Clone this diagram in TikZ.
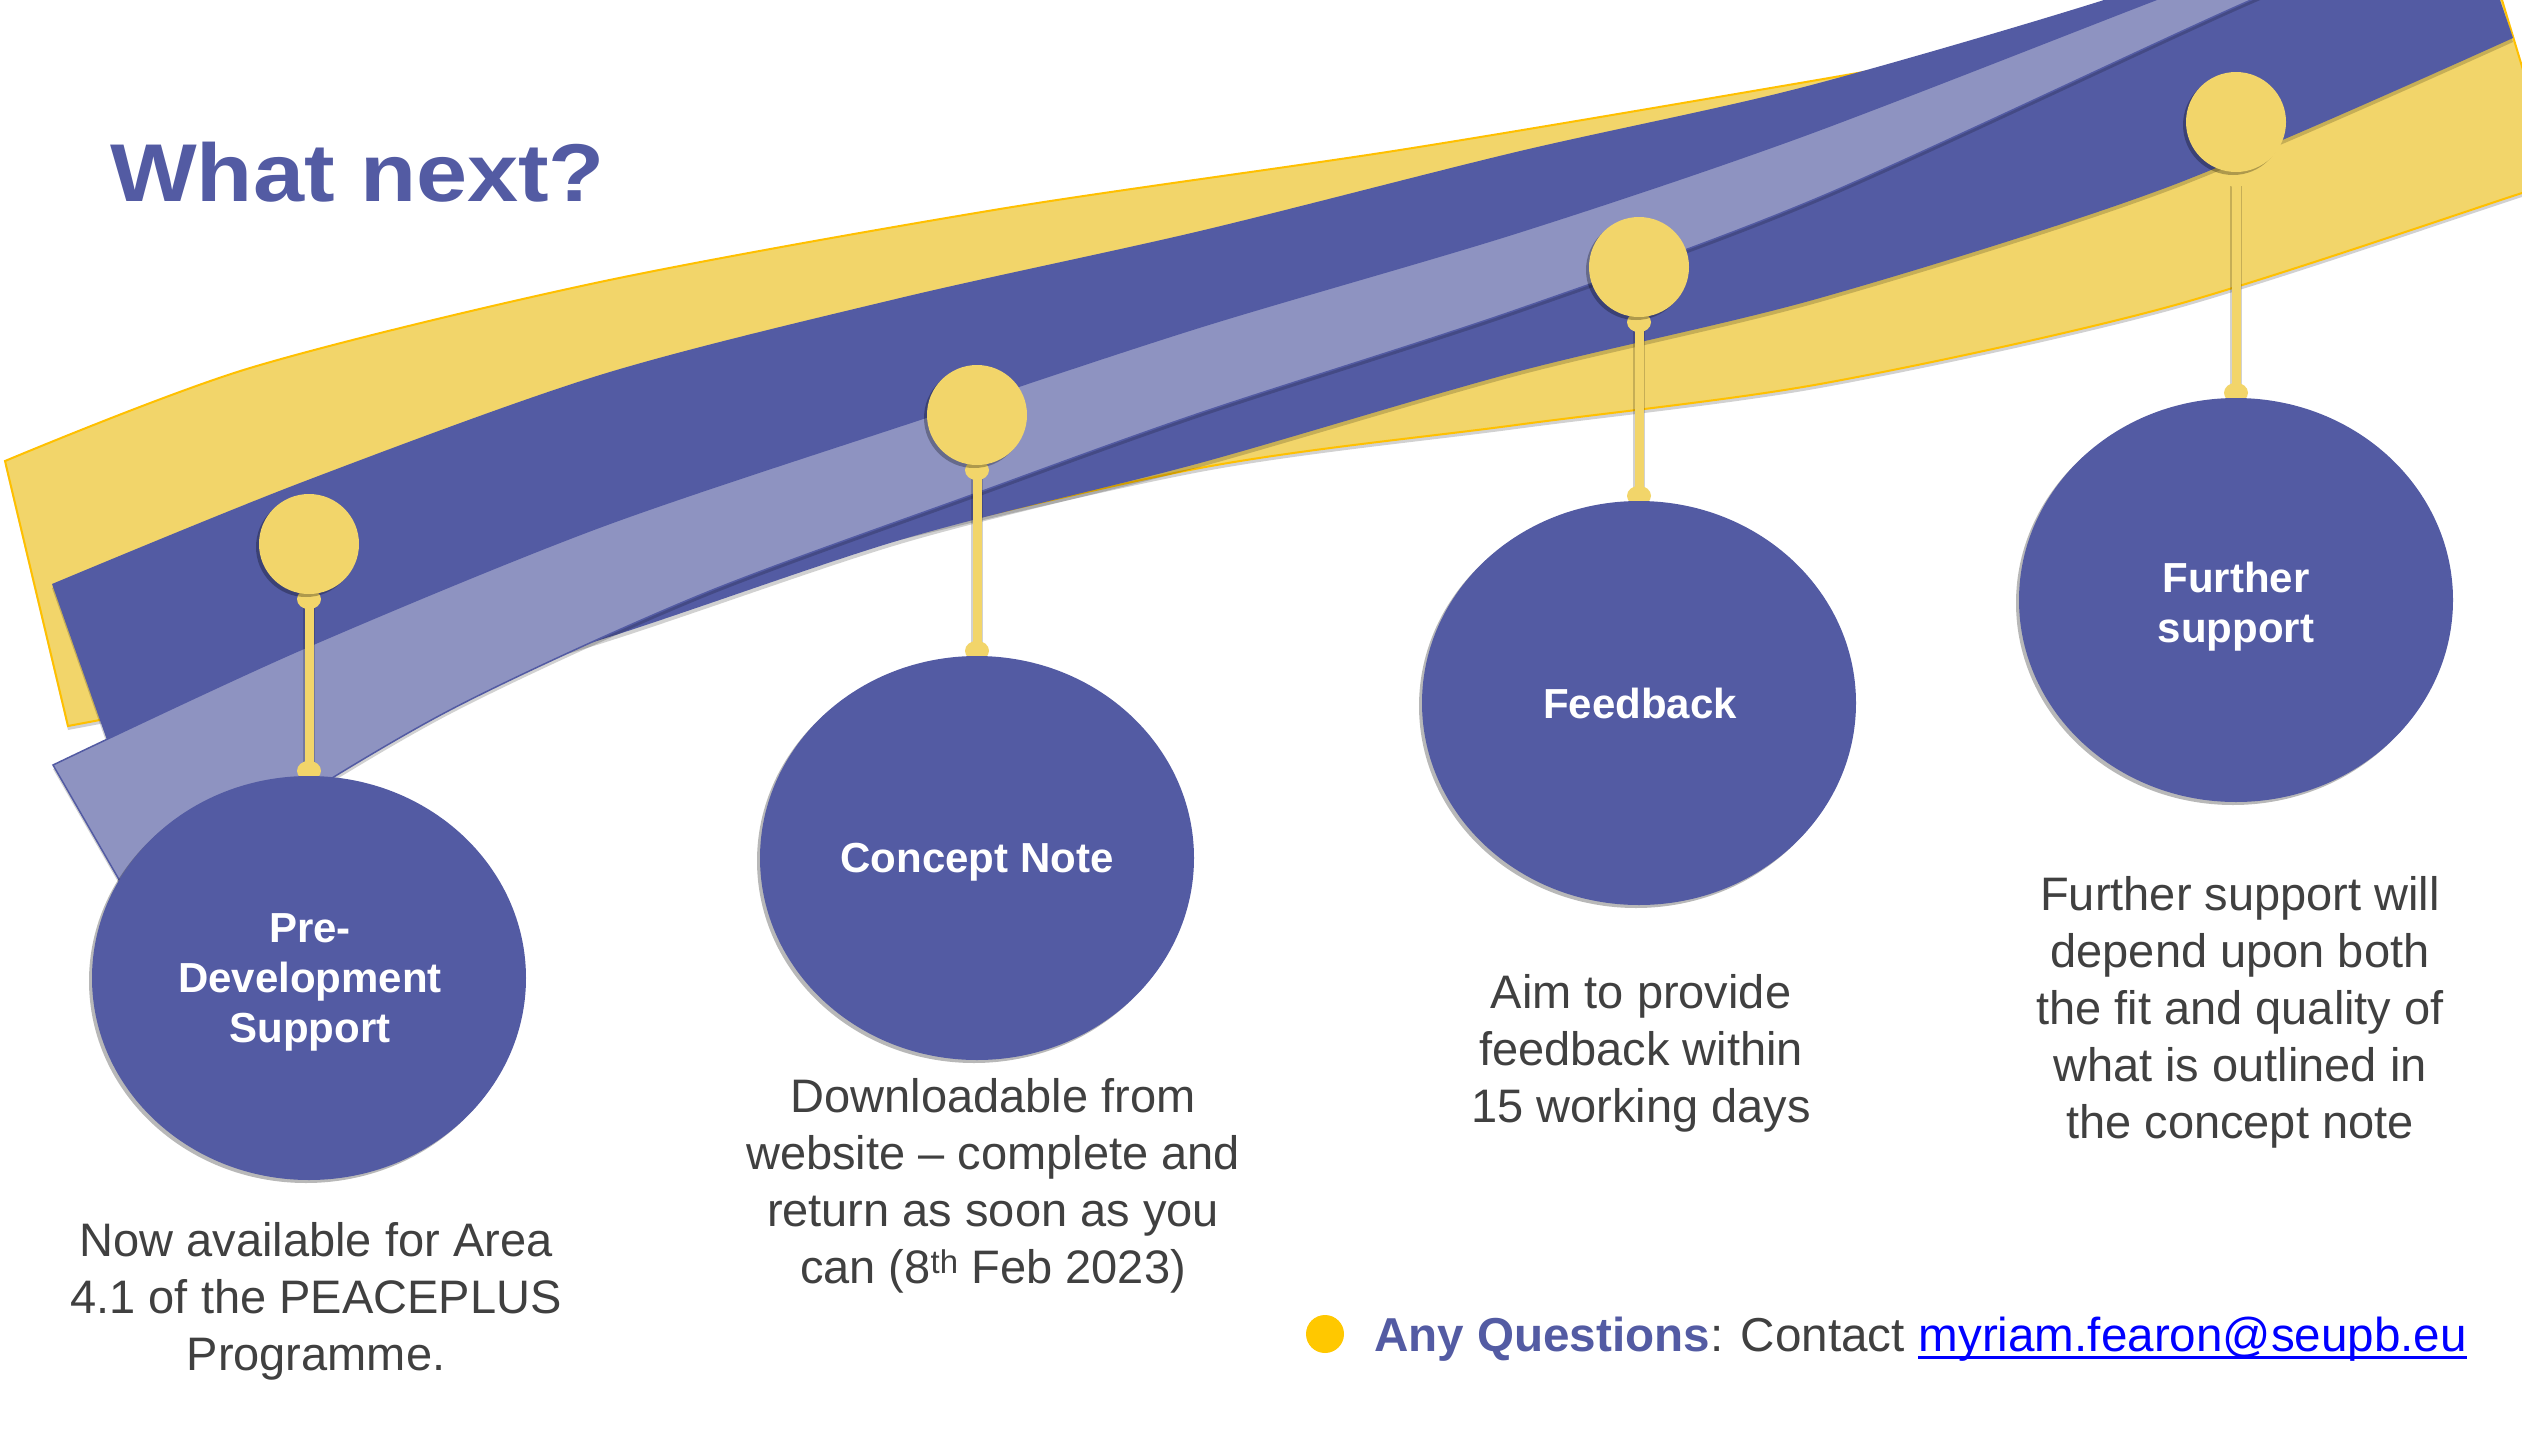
\documentclass[tikz,border=0pt]{standalone}
\usepackage{fontspec}
\setmainfont{Liberation Sans}
\usetikzlibrary{shapes.geometric,shadows}
\pgfdeclarelayer{ribbons}
\pgfdeclarelayer{stems}
\pgfsetlayers{ribbons,stems,main}
\definecolor{yel}{HTML}{F2D56A}
\definecolor{yelline}{HTML}{FFC000}
\definecolor{dkb}{HTML}{535BA3}
\definecolor{ltb}{HTML}{8E93C1}
\definecolor{txt}{HTML}{404040}
\definecolor{bul}{HTML}{FFC800}
\definecolor{link}{HTML}{0000FF}
\begin{document}
\begin{tikzpicture}[x=1pt,y=-1pt,
  ribshadow/.style={drop shadow={shadow xshift=0pt,shadow yshift=-4pt,opacity=0.18,fill=black}},
  circshadow/.style={drop shadow={shadow xshift=-3pt,shadow yshift=-3pt,opacity=0.28,fill=black}},
  bigc/.style={ellipse,fill=dkb,minimum width=434pt,minimum height=404pt,inner sep=0pt,circshadow},
  smallc/.style={circle,fill=yel,minimum size=100pt,inner sep=0pt,circshadow},
  stem/.style={draw=yel,line width=9pt,preaction={draw=black,draw opacity=0.18,line width=12pt}},
  knob/.style={fill=yel},
  lab/.style={text=white,font=\fontsize{42}{50}\selectfont\bfseries,align=center,inner sep=0pt,anchor=base},
  desc/.style={text=txt,font=\fontsize{47}{57}\selectfont,align=center,inner sep=0pt,anchor=base},
]
\useasboundingbox (0,0) rectangle (2522,1440);

% ---------------- ribbons ----------------
\begin{pgfonlayer}{ribbons}
\begin{scope}
\clip (0,0) rectangle (2522,1440);
\fill[white] (0,0) rectangle (2522,1440);
% yellow ribbon
\fill[yel,draw=yelline,line width=2pt,ribshadow]
  plot[smooth] coordinates {(5,461) (250,368) (600,282) (1000,209) (1400,150) (1800,83) (2150,22) (2493,-30)}
  -- (2560,193)
  -- plot[smooth] coordinates {(2560,180) (2522,193) (2168,307) (1820,384) (1516,425) (1200,468) (800,560) (400,660) (68,726)}
  -- cycle;
% dark blue ribbon
\fill[dkb,ribshadow]
  plot[smooth] coordinates {(52,584) (300,483) (600,375) (900,298) (1200,231) (1516,152) (1800,88) (2104,0) (2300,-70)}
  -- (2476,-70) -- (2513,38)
  -- plot[smooth] coordinates {(2513,38) (2168,187) (1820,298) (1516,372) (1200,463) (900,540) (560,652) (300,708) (107,740)}
  -- cycle;
% light blue ribbon
\fill[ltb,draw=dkb,line width=1.5pt,ribshadow]
  plot[smooth] coordinates {(53,765) (300,650) (600,527) (927,417) (1200,327) (1516,233) (1800,137) (2155,0) (2300,-55)}
  -- (2420,-60)
  -- plot[smooth] coordinates {(2400,-55) (2251,0) (1820,197) (1516,310) (1200,413) (977,493) (700,595) (450,710) (250,830) (140,916)}
  -- cycle;
\end{scope}
\end{pgfonlayer}

% ---------------- milestone nodes ----------------
\node[smallc] (s1) at (309,544) {};
\node[smallc] (s2) at (977,415) {};
\node[smallc] (s3) at (1639,267) {};
\node[smallc] (s4) at (2236,122) {};

\node[bigc] (b1) at (309,978) {};
\node[bigc] (b2) at (977,858) {};
\node[bigc] (b3) at (1639,703) {};
\node[bigc] (b4) at (2236,600) {};

% ---------------- stems ----------------
\begin{pgfonlayer}{stems}
\foreach \i in {1,2,3,4}{
  \draw[stem] (s\i.south) -- (b\i.north);
  \fill[knob] ([yshift=-5pt]s\i.south) ellipse (12 and 10);
  \fill[knob] ([yshift=5pt]b\i.north) ellipse (12 and 10);
}
\end{pgfonlayer}

% ---------------- circle labels (anchor = last baseline) ----------------
\node[lab] (l1) at (310,1042) {Pre-\\Development\\Support};
\node[lab] (l2) at (977,872) {Concept Note};
\node[lab] (l3) at (1640,718) {Feedback};
\node[lab] (l4) at (2236,642) {Further\\support};

% ---------------- descriptions (anchor = last baseline) ----------------
\node[desc] (d1) at (316,1370) {Now available for Area\\4.1 of the PEACEPLUS\\Programme.};
\node[desc] (d2) at (993,1283) {Downloadable from\\website – complete and\\return as soon as you\\can (8\textsuperscript{th} Feb 2023)};
\node[desc] (d3) at (1641,1122) {Aim to provide\\feedback within\\15 working days};
\node[desc] (d4) at (2240,1138) {Further support will\\depend upon both\\the fit and quality of\\what is outlined in\\the concept note};

% ---------------- title ----------------
\node[anchor=base west,inner sep=0pt,text=dkb,font=\fontsize{82}{90}\selectfont\bfseries] (title) at (110,201) {\scalebox{1.12}[1]{What next?}};

% ---------------- contact line ----------------
\node[circle,fill=bul,minimum size=38pt,inner sep=0pt] (dot) at (1325,1334) {};
\node[anchor=base west,inner sep=0pt,text=txt,font=\fontsize{47.6}{57}\selectfont] (q) at (1374,1351) {{\color{dkb}\bfseries Any Questions}: Contact};
\node[anchor=base west,inner sep=0pt,text=link,font=\fontsize{47.6}{57}\selectfont] (email) at ([xshift=13.2pt]q.base east) {myriam.fearon@seupb.eu};
\draw[link,line width=3pt] ([yshift=-6pt]email.base west) -- ([yshift=-6pt]email.base east);
\end{tikzpicture}
\end{document}
